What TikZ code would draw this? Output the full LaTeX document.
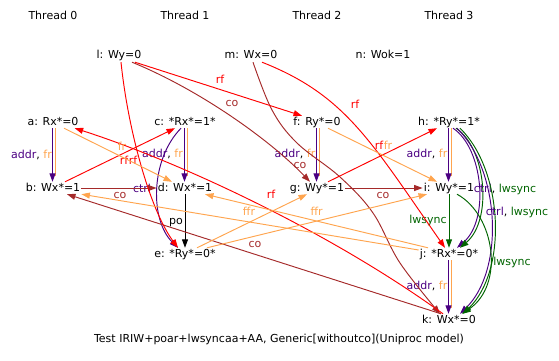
\documentclass[tikz,border=0pt]{standalone}
\usepackage{fontspec}
\setmainfont{DejaVu Sans}
\usetikzlibrary{arrows.meta}
\definecolor{rfc}{RGB}{255,0,0}
\definecolor{coc}{RGB}{165,42,42}
\definecolor{frc}{RGB}{255,165,79}
\definecolor{ctc}{RGB}{75,0,130}
\definecolor{lwc}{RGB}{0,100,0}
\begin{document}
\begin{tikzpicture}[x=1pt,y=-1pt,
  every node/.style={font=\fontsize{11}{13}\selectfont, inner sep=1pt, text height=8pt, text depth=2pt},
  edge/.style={line width=0.95pt,-{Triangle[length=8.5pt,width=6pt]}},
  rfe/.style={edge,draw=rfc},
  coe/.style={edge,draw=coc},
  fre/.style={edge,draw=frc},
  cte/.style={edge,draw=ctc},
  lwe/.style={edge,draw=lwc},
  poe/.style={edge,draw=black},
  plainfr/.style={line width=0.95pt,draw=frc},
  lab/.style={inner sep=0pt},
]
\useasboundingbox (0,0) rectangle (559,361);
% events
\node (t0) at (53,17) {Thread 0};
\node (t1) at (185,17) {Thread 1};
\node (t2) at (317,17) {Thread 2};
\node (t3) at (449,17) {Thread 3};
\node (l) at (119,56) {l: Wy=0};
\node (m) at (251,56) {m: Wx=0};
\node (n) at (383,56) {n: Wok=1};
\node (a) at (53,122) {a: Rx*=0};
\node (c) at (185,122) {c: *Rx*=1*};
\node (f) at (317,122) {f: Ry*=0};
\node (h) at (449,122) {h: *Ry*=1*};
\node (b) at (53,188) {b: Wx*=1};
\node (d) at (185,188) {d: Wx*=1};
\node (g) at (317,188) {g: Wy*=1};
\node (i) at (449,188) {i: Wy*=1};
\node (e) at (185,254) {e: *Ry*=0*};
\node (j) at (449,254) {j: *Rx*=0*};
\node (k) at (449,320) {k: Wx*=0};
\node (cap) at (279,339) {Test IRIW+poar+lwsyncaa+AA, Generic[withoutco](Uniproc model)};

% addr + fr (parallel)
\foreach \s/\t in {a/b,c/d,f/g,h/i,j/k}{
  \draw[plainfr] ([xshift=2]\s.south) -- ([xshift=2,yshift=6]\t.north);
  \draw[cte] ([xshift=-0.5]\s.south) -- ([xshift=-0.5]\t.north);
}
\node[lab] at (31.5,155) {{\color{ctc}addr}, {\color{frc}fr}};
\node[lab] at (162.5,154) {{\color{ctc}addr}, {\color{frc}fr}};
\node[lab] at (295,154) {{\color{ctc}addr}, {\color{frc}fr}};
\node[lab] at (427,154) {{\color{ctc}addr}, {\color{frc}fr}};
\node[lab] at (427,286) {{\color{ctc}addr}, {\color{frc}fr}};

% po
\draw[poe] (d.south) -- (e.north);
\node[lab] at (176,221) {po};

% ctrl c -> e
\draw[cte] ([xshift=-4]c.south) .. controls (150,160) and (150,220) .. ([xshift=-7]e.north);
\node[lab,text=ctc] at (142,189) {ctrl};

% lwsync i -> j
\draw[lwe] (i.south) -- (j.north);
\node[lab,text=lwc] at (428,220) {lwsync};

% h -> j ctrl, lwsync
\draw[cte] ([xshift=4]h.south) .. controls (483,148) and (490,220) .. ([xshift=8]j.north);
\draw[lwe] ([xshift=7]h.south) .. controls (486,148) and (493,220) .. ([xshift=11]j.north);
\node[lab] at (505,189) {{\color{ctc}ctrl}, {\color{lwc}lwsync}};

% h -> k ctrl, lwsync
\draw[cte] ([xshift=8]h.south) .. controls (500,170) and (505,270) .. ([xshift=11]k.north);
\draw[lwe] ([xshift=11]h.south) .. controls (503,170) and (508,270) .. ([xshift=14]k.north);
\node[lab] at (517,212) {{\color{ctc}ctrl}, {\color{lwc}lwsync}};

% i -> k lwsync
\draw[lwe] ([xshift=8]i.south) .. controls (495,215) and (505,285) .. ([xshift=13]k.north);
\node[lab,text=lwc] at (512,262) {lwsync};

% co
\draw[coe] (b.east) -- (d.west);
\node[lab,text=coc] at (120,195) {co};
\draw[coe] (g.east) -- (i.west);
\node[lab,text=coc] at (383,195) {co};
\draw[coe] ([xshift=13]l.south) .. controls (200,90) and (270,140) .. ([xshift=-7]g.north);
\node[lab,text=coc] at (232,103) {co};
\draw[coe] plot[smooth, tension=0.6] coordinates {([xshift=2]m.south) (272,110) (297,143) (340,177) (373,213) (400,263) ([xshift=-9]k.north)};
\node[lab,text=coc] at (300,165) {co};
\draw[coe] ([xshift=-8]k.north) -- ([xshift=14]b.south);
\node[lab,text=coc] at (255,244) {co};

% rf
\draw[rfe] ([xshift=16]l.south) -- ([xshift=-15]f.north);
\node[lab,text=rfc] at (220,80) {rf};
\draw[rfe] ([xshift=2]l.south) .. controls (128,130) and (150,210) .. ([xshift=-7]e.north);
\node[lab,text=rfc] at (133,161) {rf};
\draw[rfe] ([xshift=12]b.north) -- ([xshift=-10]c.south);
\node[lab,text=rfc] at (124,161) {rf};
\draw[rfe] ([xshift=11]g.north) -- ([xshift=-12]h.south);
\node[lab,text=rfc] at (379,146) {rf};
\draw[rfe] ([xshift=11]m.south) .. controls (345,95) and (370,140) .. ([xshift=-4]j.north);
\node[lab,text=rfc] at (355,105) {rf};
\draw[rfe] ([xshift=-6]k.north) .. controls (330,232) and (180,162) .. ([xshift=-5]a.south east);
\node[lab,text=rfc] at (271,195) {rf};

% fr
\draw[fre] ([xshift=11]a.south) -- ([xshift=-13]d.north);
\node[lab,text=frc] at (122,147) {fr};
\draw[fre] ([xshift=11]f.south) -- ([xshift=-12]i.north);
\node[lab,text=frc] at (388,146) {fr};
\draw[fre] ([xshift=12]e.north) -- ([xshift=-10]g.south);
\draw[fre] ([xshift=22]e.north) -- ([xshift=-22]i.south);
\draw[fre] ([yshift=4]j.west) -- (b.south east);
\draw[fre] ([xshift=-21]j.north) -- ([xshift=20]d.south);
\node[lab,text=frc] at (249,212) {ffr};
\node[lab,text=frc] at (316.6,212) {ffr};
\end{tikzpicture}
\end{document}
